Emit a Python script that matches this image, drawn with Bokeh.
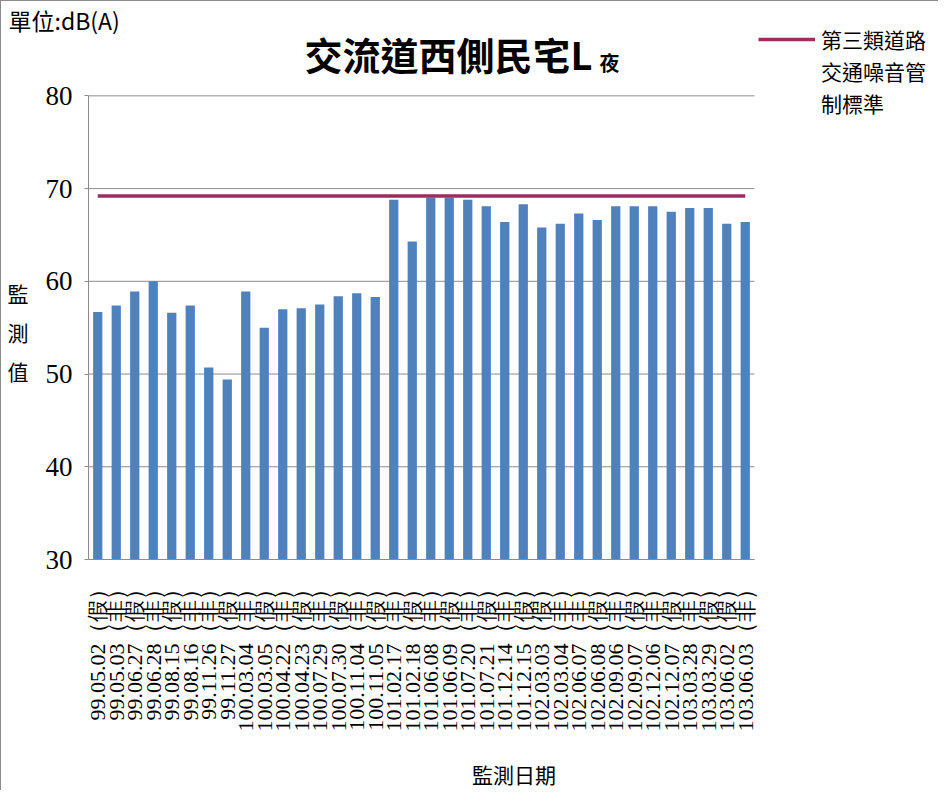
import math
from bokeh.plotting import figure
from bokeh.models import (Range1d, Label, Legend, LegendItem, FixedTicker, Title)
from bokeh.embed import file_html
from bokeh.resources import INLINE

dates = ["99.05.02", "99.05.03", "99.06.27", "99.06.28", "99.08.15", "99.08.16",
         "99.11.26", "99.11.27", "100.03.04", "100.03.05", "100.04.22", "100.04.23",
         "100.07.29", "100.07.30", "100.11.04", "100.11.05", "101.02.17", "101.02.18",
         "101.06.08", "101.06.09", "101.07.20", "101.07.21", "101.12.14", "101.12.15",
         "102.03.03", "102.03.04", "102.06.07", "102.06.08", "102.09.06", "102.09.07",
         "102.12.06", "102.12.07", "103.03.28", "103.03.29", "103.06.02", "103.06.03"]
day_type = ["假", "非", "假", "非", "假", "非", "非", "假", "非", "假", "非", "假",
            "非", "假", "非", "假", "非", "假", "非", "假", "非", "假", "非", "假",
            "假", "非", "非", "假", "非", "假", "非", "假", "非", "假", "假", "非"]
values = [56.7, 57.4, 58.9, 60.0, 56.6, 57.4, 50.7, 49.4, 58.9, 55.0, 57.0, 57.1,
          57.5, 58.4, 58.7, 58.3, 68.8, 64.3, 69.0, 69.0, 68.8, 68.1, 66.4, 68.3,
          65.8, 66.2, 67.3, 66.6, 68.1, 68.1, 68.1, 67.5, 67.9, 67.9, 66.2, 66.4]
standard = [69.2] * len(dates)
y_ticks = [30, 40, 50, 60, 70, 80]

title_text = "交流道西側民宅L"
title_sub = "夜"
unit_text = "單位:dB(A)"
y_label = "\n\n監\n測\n值"
x_label = "監測日期"
legend_lines = ["第三類道路", "交通噪音管", "制標準"]

cats = [f"{d}（{t}）" for d, t in zip(dates, day_type)]
n = len(cats)
xs = [i + 0.5 for i in range(n)]           # category centres on the x scale

W, H = 938, 790
FL = 87                   # frame left (figure px)
PW = 666                  # width of the category area (figure px)
PT, PH = 95, 468          # top of the 30..80 plot area and its height (figure px)
FT = 25                   # frame top (frame extends above 80 to hold title/legend)
FB = PT + PH              # frame bottom
FW = W - FL               # frame extends to the right edge to hold the legend
y_min, y_max = 30, 80
y_top = y_max + (PT - FT) * (y_max - y_min) / PH
x_end = FW * n / PW

cjk = "Noto Sans CJK TC"
grid_color = "#8c8c8c"

p = figure(width=W, height=H, output_backend="svg", toolbar_location=None,
           x_range=Range1d(0, x_end), y_range=Range1d(y_min, y_top),
           min_border_left=FL, min_border_right=0, min_border_top=FT,
           min_border_bottom=H - FB,
           styles={"border-left": "1px solid #8c8c8c", "border-top": "1px solid #8c8c8c"})
p.title = Title(text=unit_text, align="left", offset=-80, standoff=-20,
                text_font=cjk, text_font_size="23px",
                text_font_style="normal", text_color="black")
p.outline_line_color = None
p.background_fill_color = "white"
p.xgrid.visible = False
p.ygrid.visible = False

# horizontal gridlines limited to the category area
p.segment(x0=[0] * len(y_ticks), x1=[n] * len(y_ticks), y0=y_ticks, y1=y_ticks,
          line_color=grid_color, line_width=1)

p.vbar(x=xs, top=values, bottom=0, width=0.5, fill_color="#4F81BD", line_color=None)
std_line = p.line(x=xs, y=standard, line_color="#9B2D5F", line_width=3.5)

# y axis
p.yaxis.ticker = FixedTicker(ticks=y_ticks)
p.yaxis.bounds = (y_min, y_max)
p.yaxis.major_label_text_font = "Liberation Serif"
p.yaxis.major_label_text_font_size = "27px"
p.yaxis.major_label_text_color = "black"
p.yaxis.axis_line_color = grid_color
p.yaxis.major_tick_line_color = grid_color
p.yaxis.major_tick_out = 4
p.yaxis.major_tick_in = 0
p.yaxis.minor_tick_line_color = None
p.yaxis.major_label_standoff = 12
p.yaxis.axis_label = y_label
p.yaxis.axis_label_orientation = "horizontal"
p.yaxis.axis_label_text_font = cjk
p.yaxis.axis_label_text_font_size = "21px"
p.yaxis.axis_label_text_font_style = "normal"
p.yaxis.axis_label_text_color = "black"
p.yaxis.axis_label_standoff = 14
p.yaxis.axis_label_text_line_height = 1.3

# x axis (category labels)
p.xaxis.ticker = FixedTicker(ticks=xs)
p.xaxis.major_label_overrides = {x: c for x, c in zip(xs, cats)}
p.xaxis.bounds = (0, n)
p.xaxis.major_label_orientation = math.pi / 2
p.xaxis.major_label_text_font = "Liberation Serif"
p.xaxis.major_label_text_font_size = "22px"
p.xaxis.major_label_text_color = "black"
p.xaxis.axis_line_color = grid_color
p.xaxis.major_tick_line_color = None
p.xaxis.minor_tick_line_color = None
p.xaxis.major_tick_out = 0
p.xaxis.major_label_standoff = 18
p.xaxis.axis_label = x_label
p.xaxis.axis_label_text_font = cjk
p.xaxis.axis_label_text_font_size = "21px"
p.xaxis.axis_label_text_font_style = "normal"
p.xaxis.axis_label_text_color = "black"
p.xaxis.axis_label_standoff = 24


def frame_lbl(x, y, text, size, align="left", bold=False):
    # x, y in figure px (y from top) -> screen units relative to frame bottom-left
    p.add_layout(Label(x=x - FL, y=FB - y, x_units="screen", y_units="screen", text=text,
                       text_font=cjk, text_font_size=size, text_align=align,
                       text_baseline="middle", text_color="black",
                       text_font_style="bold" if bold else "normal"))


frame_lbl(447, 57, title_text, "38px", "center", True)
frame_lbl(608, 66, title_sub, "20px", "center", True)

# legend (inside the extended frame, right of the category area)
row_h = 32
items = [LegendItem(label=legend_lines[0], renderers=[std_line])]
items += [LegendItem(label=t, renderers=[]) for t in legend_lines[1:]]
legend = Legend(items=items, location=(757 - FL, FB - (27 + row_h * len(legend_lines))),
                glyph_width=57, glyph_height=row_h, label_height=row_h, label_standoff=6,
                padding=0, margin=0, spacing=0,
                border_line_color=None, background_fill_alpha=0,
                label_text_font=cjk, label_text_font_size="21px", label_text_color="black")
p.add_layout(legend)

open("out.html", "w").write(file_html(p, INLINE))
